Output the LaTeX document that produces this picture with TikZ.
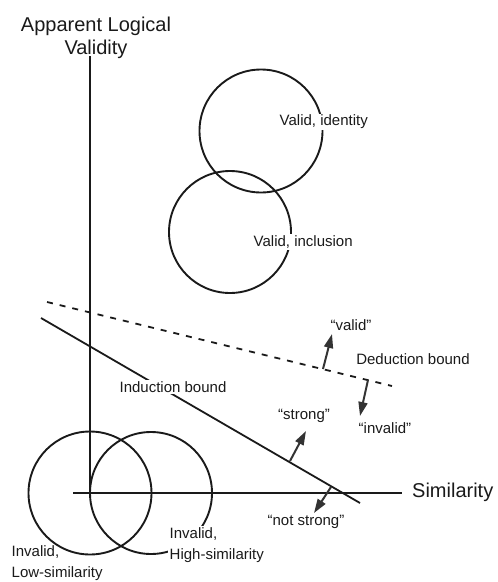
\documentclass[tikz,border=0pt]{standalone}
\usepackage{fontspec}
\setmainfont{Liberation Sans}
\usetikzlibrary{arrows.meta}
\definecolor{arrowgray}{HTML}{333333}
\definecolor{ink}{HTML}{1A1A1A}
\begin{document}
\begin{tikzpicture}[x=1pt,y=-1pt,
  ring/.style={circle,draw=ink,line width=1.9pt,inner sep=0pt,minimum size=#1},
  axis/.style={draw=ink,line width=1.8pt},
  lbl/.style={font=\fontsize{15}{21}\selectfont,inner sep=1.5pt,text=ink},
  wlbl/.style={lbl,fill=white},
  big/.style={font=\fontsize{20}{23}\selectfont,inner sep=0pt,text=ink},
  dir/.style={draw=arrowgray,line width=2pt,-{Triangle[length=14pt,width=9pt]}},
  bound/.style={draw=ink,line width=1.8pt}]
\useasboundingbox (0,0) rectangle (498,582);
% axes
\node[big,align=center] (ylab) at (96,38) {Apparent Logical\\Validity};
\node[big,anchor=west] (xlab) at (412,492) {Similarity};
\coordinate (ytop) at (90,56);
\coordinate (o) at (90,493);
\coordinate (xl) at (73,493);
\coordinate (xr) at (402,493);
\draw[axis] (ytop) -- (o);
\draw[axis] (xl) -- (xr);
% circles
\node[ring=123pt] (cid) at (261,131) {};
\node[ring=122pt] (cin) at (230,232) {};
\node[ring=123pt] (clow) at (90,493) {};
\node[ring=122pt] (chigh) at (151,493) {};
% deduction bound
\coordinate (d1) at (47,302);
\coordinate (d2) at (392,386);
\draw[bound,dash pattern=on 6pt off 7pt] (d1) -- (d2);
% induction bound
\coordinate (i1) at (41,318);
\coordinate (i2) at (360,503);
\draw[bound] (i1) -- (i2);
% labels
\node[wlbl,anchor=west] (tid) at (278,122) {Valid, identity};
\node[wlbl,anchor=west] (tin) at (252,242) {Valid, inclusion};
\node[wlbl] (tind) at (173,387) {Induction bound};
\node[lbl] (tded) at (413,359) {Deduction bound};
\node[lbl] (tvalid) at (351,325) {“valid”};
\node[lbl] (tinvalid) at (385,428) {“invalid”};
\node[lbl] (tstrong) at (304,416) {“strong”};
\node[lbl] (tnot) at (306,522) {“not strong”};
\node[lbl,anchor=west,align=left] (tlow) at (10,563) {Invalid,\\Low-similarity};
\node[wlbl,anchor=west,align=left] (thigh) at (168,545) {Invalid,\\High-similarity};
% direction arrows
\coordinate (av0) at (323,369); \coordinate (av1) at (332,334);
\coordinate (ai0) at (368,380); \coordinate (ai1) at (360,416);
\coordinate (as0) at (290,461); \coordinate (as1) at (306,431);
\coordinate (an0) at (331,487); \coordinate (an1) at (314,513);
\draw[dir] (av0) -- (av1);
\draw[dir] (ai0) -- (ai1);
\draw[dir] (as0) -- (as1);
\draw[dir] (an0) -- (an1);
\end{tikzpicture}
\end{document}
